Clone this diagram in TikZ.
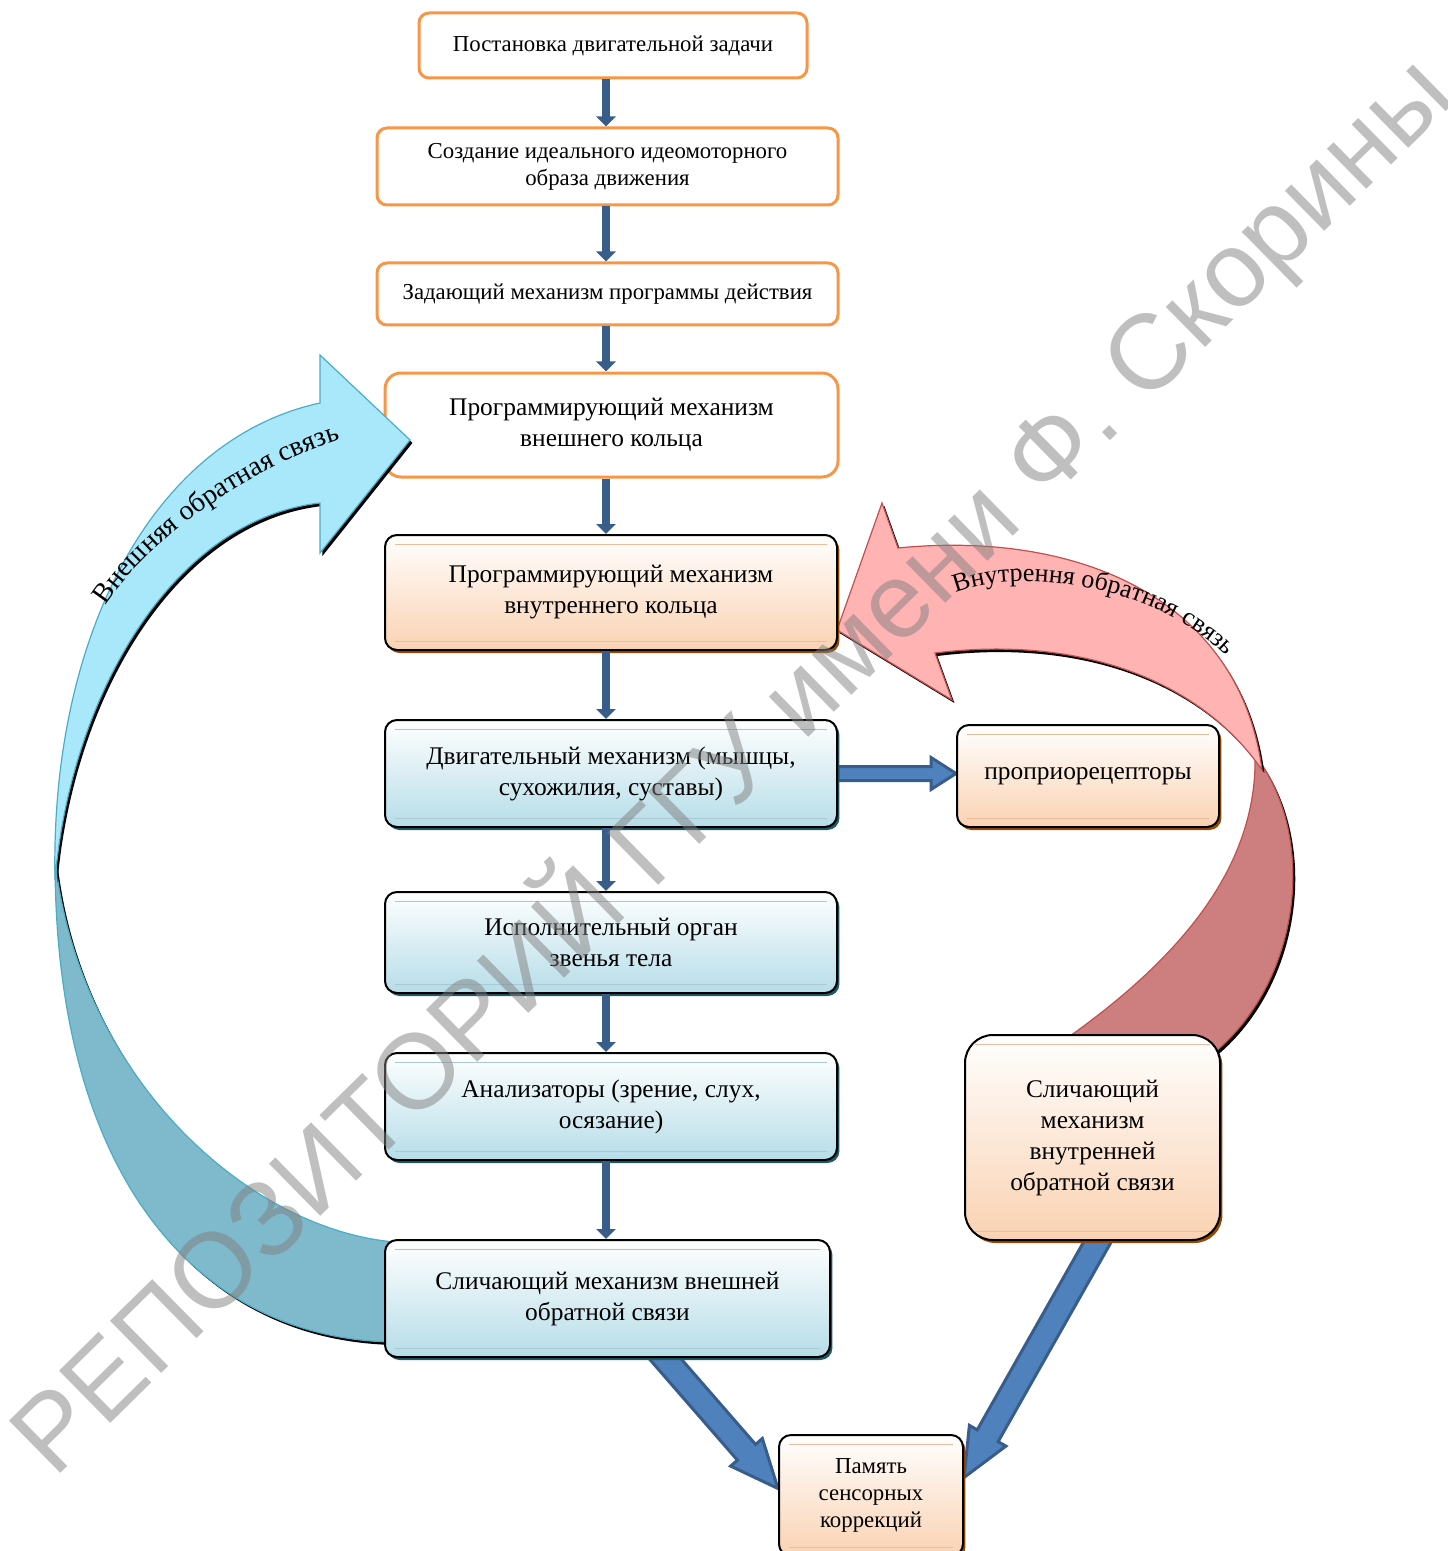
\documentclass[tikz,border=0pt]{standalone}
\usepackage{fontspec}
\setmainfont{Liberation Serif}
\newfontfamily\wmfont{Liberation Sans}
\usetikzlibrary{calc,shadows,backgrounds,decorations.text,arrows.meta}

\definecolor{flowblue}{RGB}{56,93,138}
\definecolor{blockblue}{RGB}{79,129,189}
\definecolor{boxorange}{RGB}{247,150,70}
\definecolor{peach}{RGB}{250,210,178}
\definecolor{peachline}{RGB}{232,190,158}
\definecolor{peachshadow}{RGB}{151,71,6}
\definecolor{icyblue}{RGB}{182,221,232}
\definecolor{icyline}{RGB}{170,200,212}
\definecolor{icyshadow}{RGB}{32,88,103}
\definecolor{cyanarrow}{RGB}{168,232,250}
\definecolor{cyanedge}{RGB}{75,172,198}
\definecolor{tealarrow}{RGB}{127,186,204}
\definecolor{pinkarrow}{RGB}{255,179,179}
\definecolor{pinkedge}{RGB}{192,80,77}
\definecolor{roseshade}{RGB}{205,127,127}

\newcommand{\topfont}{\fontsize{11.4}{13.5}\selectfont}
\newcommand{\boxfont}{\fontsize{12.7}{15.5}\selectfont}
\newcommand{\memfont}{\fontsize{11.4}{13.3}\selectfont}
\newcommand{\labelfont}{\fontsize{14}{16}\selectfont}

% block arrow: from, to, shaft half width, head half width, head length
\newcommand{\blockarrow}[5]{%
  \draw [blockarr] let \p1=(#1), \p2=(#2), \p3=($(\p2)!#5!(\p1)$) in
    ($(\p1)!#3!90:(\p2)$) -- ($(\p3)!#3!90:(\p2)$) -- ($(\p3)!#4!90:(\p2)$) -- (\p2)
    -- ($(\p3)!#4!-90:(\p2)$) -- ($(\p3)!#3!-90:(\p2)$) -- ($(\p1)!#3!-90:(\p2)$) -- cycle;}

\begin{document}
\begin{tikzpicture}[x=0.5pt, y=-0.5pt,
    orangebox/.style={draw=boxorange, line width=1.5pt, fill=white, rounded corners=5pt, align=center, font=\topfont, inner sep=2pt},
    gloss/.style={path picture={\draw [#1, line width=0.4pt]
        ([xshift=5pt,yshift=-4.5pt]path picture bounding box.north west) -- ([xshift=-5pt,yshift=-4.5pt]path picture bounding box.north east)
        ([xshift=5pt,yshift=4.5pt]path picture bounding box.south west) -- ([xshift=-5pt,yshift=4.5pt]path picture bounding box.south east);}},
    glossbox/.style={draw=black, line width=1pt, rounded corners=6pt, align=center, font=\boxfont, top color=white, inner sep=2pt},
    peachbox/.style={glossbox, bottom color=peach, gloss=peachline, drop shadow={shadow xshift=1.2pt, shadow yshift=-1.5pt, fill=peachshadow, opacity=1}},
    icybox/.style={glossbox, bottom color=icyblue, gloss=icyline, drop shadow={shadow xshift=1.2pt, shadow yshift=-1.5pt, fill=icyshadow, opacity=1}},
    flow/.style={draw=flowblue, line width=4pt, -{Triangle[length=5pt 0 0, width=9.5pt 0 0]}},
    blockarr/.style={fill=blockblue, draw=flowblue, line width=1.5pt, line join=miter},
    arrowshadow/.style={preaction={fill=black, transform canvas={xshift=1.2pt, yshift=-1.5pt}}},
    watermark/.style={font=\wmfont\fontsize{53.2}{54}\selectfont, text=black!50, text opacity=0.5, rotate=44.5}]
    \useasboundingbox (0,0) rectangle (1447,1551);

    \node [orangebox, minimum width=194pt, minimum height=32.5pt] (task) at (613,45.5) {Постановка двигательной задачи};
    \node [orangebox, minimum width=230.5pt, minimum height=38.5pt] (ideal) at (607.5,166.5) {Создание идеального идеомоторного\\образа движения};
    \node [orangebox, minimum width=230.5pt, minimum height=31pt] (setter) at (607.5,294) {Задающий механизм программы действия};
    \node [orangebox, font=\boxfont, rounded corners=8pt, minimum width=226.5pt, minimum height=52pt] (outer) at (611.5,425) {Программирующий механизм\\внешнего кольца};
    \node [peachbox, minimum width=226pt, minimum height=57.5pt] (inner) at (611,592.5) {Программирующий механизм\\внутреннего кольца};
    \node [icybox, minimum width=226pt, minimum height=53.5pt] (motor) at (611,773.5) {Двигательный механизм (мышцы,\\сухожилия, суставы)};
    \node [icybox, minimum width=226pt, minimum height=50.5pt] (organ) at (611,942.5) {Исполнительный орган\\звенья тела};
    \node [icybox, minimum width=226pt, minimum height=53.5pt] (sensors) at (611,1106.5) {Анализаторы (зрение, слух,\\осязание)};
    \node [icybox, minimum width=222.5pt, minimum height=58.5pt] (cmpout) at (607.5,1298.5) {Сличающий механизм внешней\\обратной связи};
    \node [peachbox, minimum width=131pt, minimum height=51pt] (propr) at (1088,776) {проприорецепторы};
    \node [peachbox, rounded corners=14pt, minimum width=127.5pt, minimum height=102.5pt] (cmpin) at (1092.5,1137.5) {Сличающий\\механизм\\внутренней\\обратной связи};
    \node [peachbox, font=\memfont, rounded corners=6pt, minimum width=92pt, minimum height=60.5pt] (memory) at (871,1495.5) {Память\\сенсорных\\коррекций};

    \coordinate (stem) at (606,0);
    \foreach \a/\b in {task/ideal, ideal/setter, setter/outer, outer/inner, inner/motor, motor/organ, organ/sensors, sensors/cmpout}
        \draw [flow] (\a.south -| stem) -- (\b.north -| stem);

    \begin{scope}[on background layer]
        % inner feedback loop
        \path [arrowshadow, fill=roseshade, draw=pinkedge, line width=0.6pt] (1255,755) .. controls (1320,840) and (1300,990) .. (1205,1060)
            -- (1050,1050) .. controls (1160,975) and (1258,880) .. (1255,755) -- cycle;
        \path [arrowshadow, fill=pinkarrow, draw=pinkedge, line width=0.6pt] (1262,770) .. controls (1240,600) and (1080,530) .. (898,548)
            -- (882,503) -- (837,630) -- (952,700) -- (935,653) .. controls (1080,635) and (1200,680) .. (1262,770) -- cycle;
        % outer feedback loop, back part
        \path [arrowshadow, fill=tealarrow, draw=cyanedge, line width=0.6pt] (55,860) .. controls (55,1180) and (200,1340) .. (395,1342)
            -- (395,1242) .. controls (250,1230) and (80,1080) .. (55,860) -- cycle;
        \blockarrow{motor.east}{propr.west |- motor.east}{3.5pt}{8pt}{12.5pt}
        \blockarrow{$(cmpout.south)+(50,-8)$}{$(memory.west)+(0,-7)$}{6pt}{10.5pt}{24pt}
        \blockarrow{$(cmpin.south)+(10,-8)$}{$(memory.east)+(0,-18)$}{6pt}{10.5pt}{24pt}
    \end{scope}

    % outer feedback loop, front part
    \path [arrowshadow, fill=cyanarrow, draw=cyanedge, line width=0.6pt] (55,880) .. controls (50,640) and (150,440) .. (320,403)
        -- (320,355) -- (410,440) -- (320,553) -- (320,503) .. controls (170,520) and (70,700) .. (55,880) -- cycle;

    \path [decorate, decoration={text along path, text align=center, text={|\labelfont|Внешняя обратная связь}}]
        (100,614) .. controls (140,545) and (250,465) .. (350,437);
    \path [decorate, decoration={text along path, text align=center, text={|\fontsize{13}{15}\selectfont|Внутрення обратная связь}}]
        (957,592) .. controls (1030,565) and (1160,590) .. (1225,655);

    \node [watermark] (stamp) at (730,763) {РЕПОЗИТОРИЙ ГГУ имени Ф. Скорины};
\end{tikzpicture}
\end{document}
